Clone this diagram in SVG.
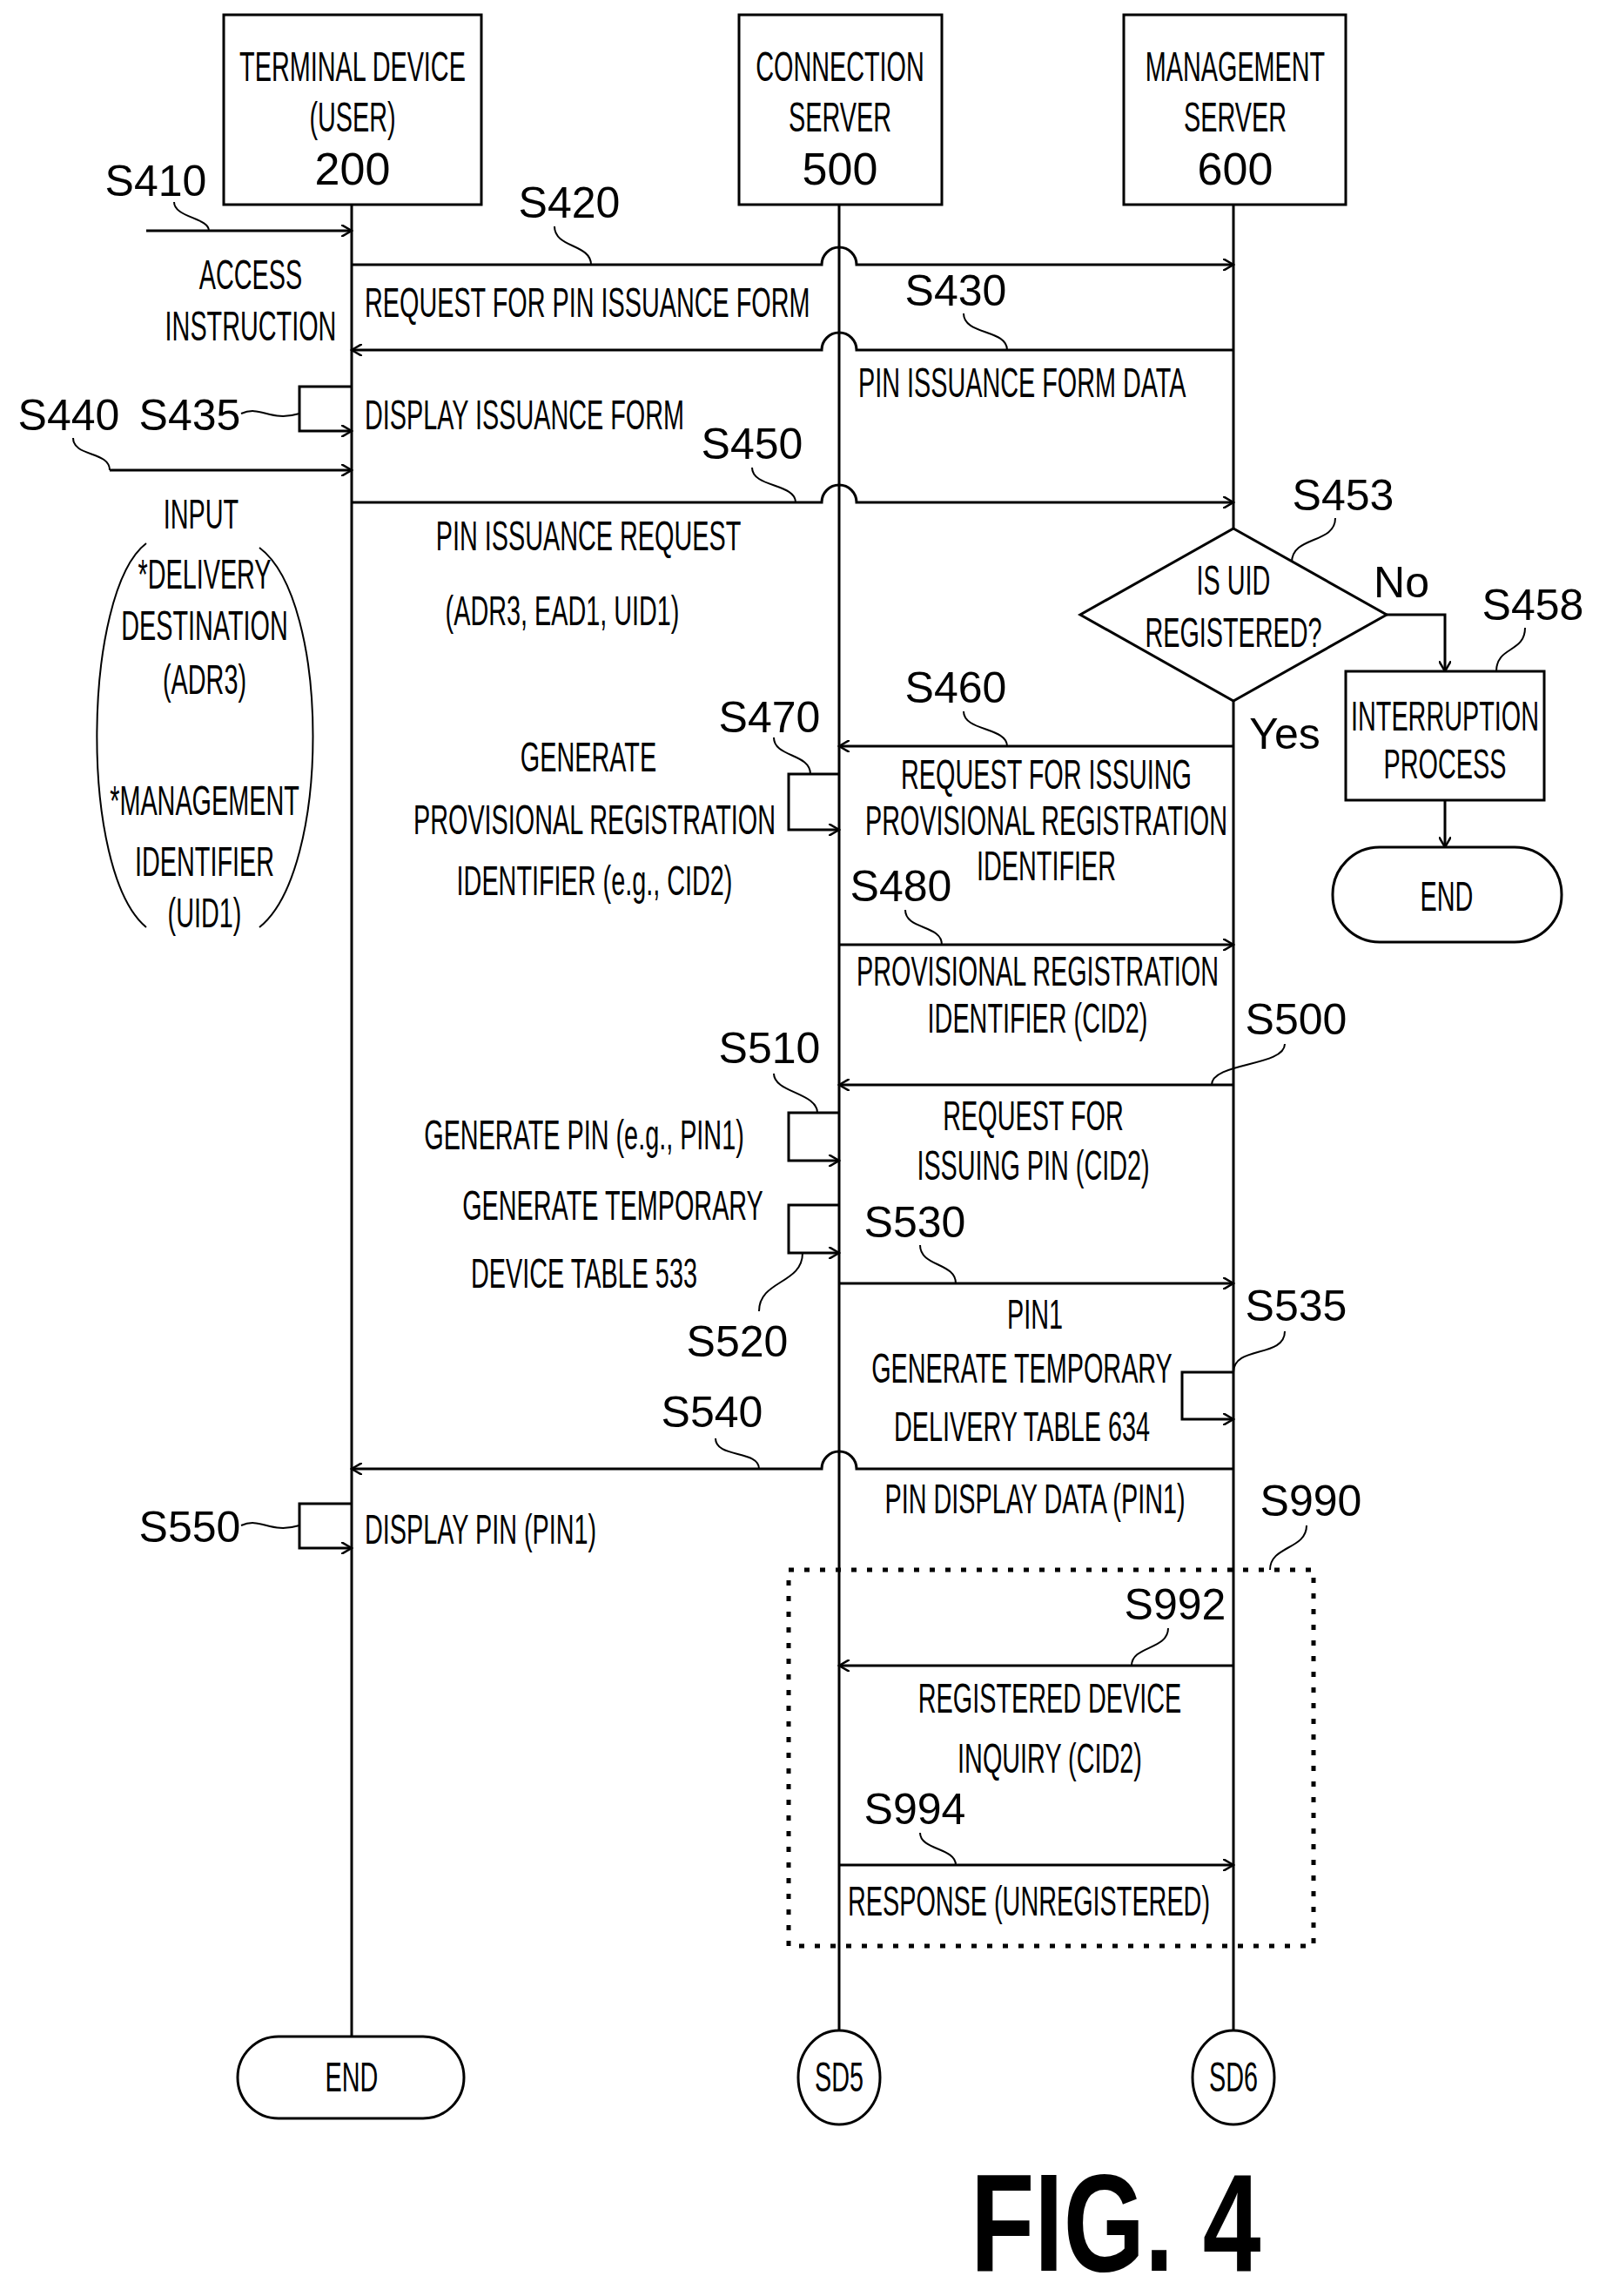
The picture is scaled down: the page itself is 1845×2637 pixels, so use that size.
<svg xmlns="http://www.w3.org/2000/svg" width="1845" height="2637" viewBox="0 0 1845 2637">
<style>
.bg{fill:#fff}
.ln{stroke:#000;stroke-width:3;fill:none}
.ar{stroke:#000;stroke-width:3;fill:none;marker-end:url(#ah)}
.ld{stroke:#000;stroke-width:2;fill:none}
.bx{stroke:#000;stroke-width:3;fill:#fff}
.dot{stroke:#000;stroke-width:5;fill:none;stroke-dasharray:6 12}
.t{font-family:"Liberation Sans",Arial,sans-serif;font-size:48px;fill:#000}
.c{text-anchor:middle}
.s{font-family:"Liberation Sans",Arial,sans-serif;font-size:50px;fill:#000;text-anchor:middle}
.n{font-family:"Liberation Sans",Arial,sans-serif;font-size:52px;fill:#000;text-anchor:middle}
</style>
<defs>
<marker id="ah" markerWidth="14" markerHeight="14" refX="12" refY="7" orient="auto" markerUnits="userSpaceOnUse"><path d="M0,0 L12,7 L0,14" fill="none" stroke="#000" stroke-width="2.5"/></marker>
</defs>
<rect class="bg" width="1845" height="2637"/>

<g id="connectors">
<path class="ln" d="M404,235 V2339"/>
<path class="ln" d="M964,235 V2339"/>
<path class="ln" d="M1417,235 V607"/>
<path class="ln" d="M1417,805 V2339"/>
<path class="ar" d="M168,265 H404"/>
<path class="ar" d="M404,304 H944 A20,20 0 0 1 984,304 H1417"/>
<path class="ar" d="M1417,402 H984 A20,20 0 0 0 944,402 H404"/>
<path class="ar" d="M404,444 H344 V495 H404"/>
<path class="ar" d="M126,540 H404"/>
<path class="ar" d="M404,577 H944 A20,20 0 0 1 984,577 H1417"/>
<path class="ar" d="M1593,706 H1660 V771"/>
<path class="ar" d="M1660,919 V973"/>
<path class="ar" d="M1417,857 H964"/>
<path class="ar" d="M964,889 H906 V953 H964"/>
<path class="ar" d="M964,1085 H1417"/>
<path class="ar" d="M1417,1246 H964"/>
<path class="ar" d="M964,1278 H906 V1333 H964"/>
<path class="ar" d="M964,1384 H906 V1439 H964"/>
<path class="ar" d="M964,1474 H1417"/>
<path class="ar" d="M1417,1576 H1358 V1630 H1417"/>
<path class="ar" d="M1417,1687 H984 A20,20 0 0 0 944,1687 H404"/>
<path class="ar" d="M404,1727 H344 V1778 H404"/>
<path class="ar" d="M1417,1913 H964"/>
<path class="ar" d="M964,2142 H1417"/>
<path class="ld" d="M200,232 C200,250 240,250 240,265"/>
<path class="ld" d="M637,260 C637,285 679,280 679,304"/>
<path class="ld" d="M1107,360 C1107,385 1157,378 1157,402"/>
<path class="ld" d="M277,475 C300,465 310,485 344,475"/>
<path class="ld" d="M84,503 C84,525 126,518 126,540"/>
<path class="ld" d="M864,537 C864,560 914,555 914,577"/>
<path class="ld" d="M1534,595 C1534,625 1484,615 1484,646"/>
<path class="ld" d="M1752,721 C1752,750 1719,742 1719,771"/>
<path class="ld" d="M1107,817 C1107,840 1157,835 1157,857"/>
<path class="ld" d="M889,847 C889,870 931,865 931,889"/>
<path class="ld" d="M1040,1045 C1040,1068 1082,1062 1082,1085"/>
<path class="ld" d="M1476,1199 C1476,1225 1392,1220 1392,1246"/>
<path class="ld" d="M889,1233 C889,1255 939,1255 939,1278"/>
<path class="ld" d="M872,1506 C872,1470 922,1475 922,1439"/>
<path class="ld" d="M1057,1430 C1057,1455 1098,1450 1098,1474"/>
<path class="ld" d="M1476,1529 C1476,1560 1417,1545 1417,1576"/>
<path class="ld" d="M822,1652 C822,1675 872,1665 872,1687"/>
<path class="ld" d="M277,1752 C300,1742 310,1762 344,1752"/>
<path class="ld" d="M1501,1752 C1501,1780 1459,1775 1459,1803"/>
<path class="ld" d="M1342,1870 C1342,1895 1300,1890 1300,1913"/>
<path class="ld" d="M1057,2105 C1057,2125 1098,2122 1098,2142"/>
<path class="ld" d="M168,624 C95,680 90,1000 168,1065"/>
<path class="ld" d="M298,629 C380,690 380,1000 298,1065"/>
</g>

<g id="terminal200"><rect class="bx" x="257" y="17" width="296" height="218"/>
<text class="t c" transform="translate(405 93) scale(.6 1)">TERMINAL DEVICE</text>
<text class="t c" transform="translate(405 151) scale(.6 1)">(USER)</text>
<text class="n" x="405" y="212">200</text></g>
<g id="connection500"><rect class="bx" x="849" y="17" width="233" height="218"/>
<text class="t c" transform="translate(965 93) scale(.6 1)">CONNECTION</text>
<text class="t c" transform="translate(965 151) scale(.6 1)">SERVER</text>
<text class="n" x="965" y="212">500</text></g>
<g id="management600"><rect class="bx" x="1291" y="17" width="255" height="218"/>
<text class="t c" transform="translate(1419 93) scale(.6 1)">MANAGEMENT</text>
<text class="t c" transform="translate(1419 151) scale(.6 1)">SERVER</text>
<text class="n" x="1419" y="212">600</text></g>

<g id="decision"><path class="bx" d="M1417,607 L1593,706 L1417,805 L1241,706 Z"/>
<text class="t c" transform="translate(1417 683) scale(.6 1)">IS UID</text>
<text class="t c" transform="translate(1417 743) scale(.6 1)">REGISTERED?</text></g>
<g id="interruption"><rect class="bx" x="1546" y="771" width="228" height="148"/>
<text class="t c" transform="translate(1660 839) scale(.6 1)">INTERRUPTION</text>
<text class="t c" transform="translate(1660 894) scale(.6 1)">PROCESS</text></g>
<g id="end1"><rect class="bx" x="1531" y="973" width="263" height="109" rx="54"/>
<text class="t c" transform="translate(1662 1046) scale(.6 1)">END</text></g>
<g id="end2"><rect class="bx" x="273" y="2339" width="260" height="94" rx="47"/>
<text class="t c" transform="translate(404 2402) scale(.6 1)">END</text></g>
<g id="sd5"><ellipse class="bx" cx="964" cy="2386" rx="47" ry="54"/>
<text class="t c" transform="translate(964 2402) scale(.6 1)">SD5</text></g>
<g id="sd6"><ellipse class="bx" cx="1417" cy="2386" rx="47" ry="54"/>
<text class="t c" transform="translate(1417 2402) scale(.6 1)">SD6</text></g>
<g id="s990box"><rect class="dot" x="906" y="1803" width="603" height="432"/></g>

<g id="labels">
<text class="s" x="179" y="225">S410</text>
<text class="s" x="654" y="250">S420</text>
<text class="s" x="1098" y="351">S430</text>
<text class="s" x="218" y="494">S435</text>
<text class="s" x="79" y="494">S440</text>
<text class="s" x="864" y="527">S450</text>
<text class="s" x="1543" y="586">S453</text>
<text class="s" x="1761" y="712">S458</text>
<text class="s" x="1610" y="686">No</text>
<text class="s" x="1476" y="860">Yes</text>
<text class="s" x="1098" y="807">S460</text>
<text class="s" x="884" y="841">S470</text>
<text class="s" x="1035" y="1035">S480</text>
<text class="s" x="1489" y="1188">S500</text>
<text class="s" x="884" y="1221">S510</text>
<text class="s" x="847" y="1558">S520</text>
<text class="s" x="1051" y="1421">S530</text>
<text class="s" x="1489" y="1517">S535</text>
<text class="s" x="818" y="1639">S540</text>
<text class="s" x="218" y="1771">S550</text>
<text class="s" x="1506" y="1741">S990</text>
<text class="s" x="1350" y="1860">S992</text>
<text class="s" x="1051" y="2095">S994</text>

<text class="t c" transform="translate(288 332) scale(.6 1)">ACCESS</text>
<text class="t c" transform="translate(288 391) scale(.6 1)">INSTRUCTION</text>
<text class="t" transform="translate(419 364) scale(.6 1)">REQUEST FOR PIN ISSUANCE FORM</text>
<text class="t" transform="translate(986 456) scale(.6 1)">PIN ISSUANCE FORM DATA</text>
<text class="t" transform="translate(419 493) scale(.6 1)">DISPLAY ISSUANCE FORM</text>
<text class="t c" transform="translate(231 607) scale(.6 1)">INPUT</text>
<text class="t c" transform="translate(676 632) scale(.6 1)">PIN ISSUANCE REQUEST</text>
<text class="t c" transform="translate(646 718) scale(.6 1)">(ADR3, EAD1, UID1)</text>
<text class="t c" transform="translate(235 676) scale(.6 1)">*DELIVERY</text>
<text class="t c" transform="translate(235 735) scale(.6 1)">DESTINATION</text>
<text class="t c" transform="translate(235 797) scale(.6 1)">(ADR3)</text>
<text class="t c" transform="translate(235 936) scale(.6 1)">*MANAGEMENT</text>
<text class="t c" transform="translate(235 1006) scale(.6 1)">IDENTIFIER</text>
<text class="t c" transform="translate(235 1065) scale(.6 1)">(UID1)</text>
<text class="t c" transform="translate(1202 906) scale(.6 1)">REQUEST FOR ISSUING</text>
<text class="t c" transform="translate(1202 959) scale(.6 1)">PROVISIONAL REGISTRATION</text>
<text class="t c" transform="translate(1202 1011) scale(.6 1)">IDENTIFIER</text>
<text class="t c" transform="translate(676 886) scale(.6 1)">GENERATE</text>
<text class="t c" transform="translate(683 958) scale(.6 1)">PROVISIONAL REGISTRATION</text>
<text class="t c" transform="translate(683 1028) scale(.6 1)">IDENTIFIER (e.g., CID2)</text>
<text class="t c" transform="translate(1192 1132) scale(.6 1)">PROVISIONAL REGISTRATION</text>
<text class="t c" transform="translate(1192 1186) scale(.6 1)">IDENTIFIER (CID2)</text>
<text class="t c" transform="translate(1187 1298) scale(.6 1)">REQUEST FOR</text>
<text class="t c" transform="translate(1187 1355) scale(.6 1)">ISSUING PIN (CID2)</text>
<text class="t c" transform="translate(671 1320) scale(.6 1)">GENERATE PIN (e.g., PIN1)</text>
<text class="t c" transform="translate(704 1401) scale(.6 1)">GENERATE TEMPORARY</text>
<text class="t c" transform="translate(671 1479) scale(.6 1)">DEVICE TABLE 533</text>
<text class="t c" transform="translate(1189 1526) scale(.6 1)">PIN1</text>
<text class="t c" transform="translate(1174 1588) scale(.6 1)">GENERATE TEMPORARY</text>
<text class="t c" transform="translate(1174 1655) scale(.6 1)">DELIVERY TABLE 634</text>
<text class="t c" transform="translate(1189 1738) scale(.6 1)">PIN DISPLAY DATA (PIN1)</text>
<text class="t" transform="translate(419 1773) scale(.6 1)">DISPLAY PIN (PIN1)</text>
<text class="t c" transform="translate(1206 1967) scale(.6 1)">REGISTERED DEVICE</text>
<text class="t c" transform="translate(1206 2036) scale(.6 1)">INQUIRY (CID2)</text>
<text class="t c" transform="translate(1182 2200) scale(.6 1)">RESPONSE (UNREGISTERED)</text>
<text font-family="Liberation Sans, Arial, sans-serif" font-size="160" font-weight="bold" transform="translate(1115 2608) scale(.75 1)">FIG. 4</text>
</g>
</svg>
